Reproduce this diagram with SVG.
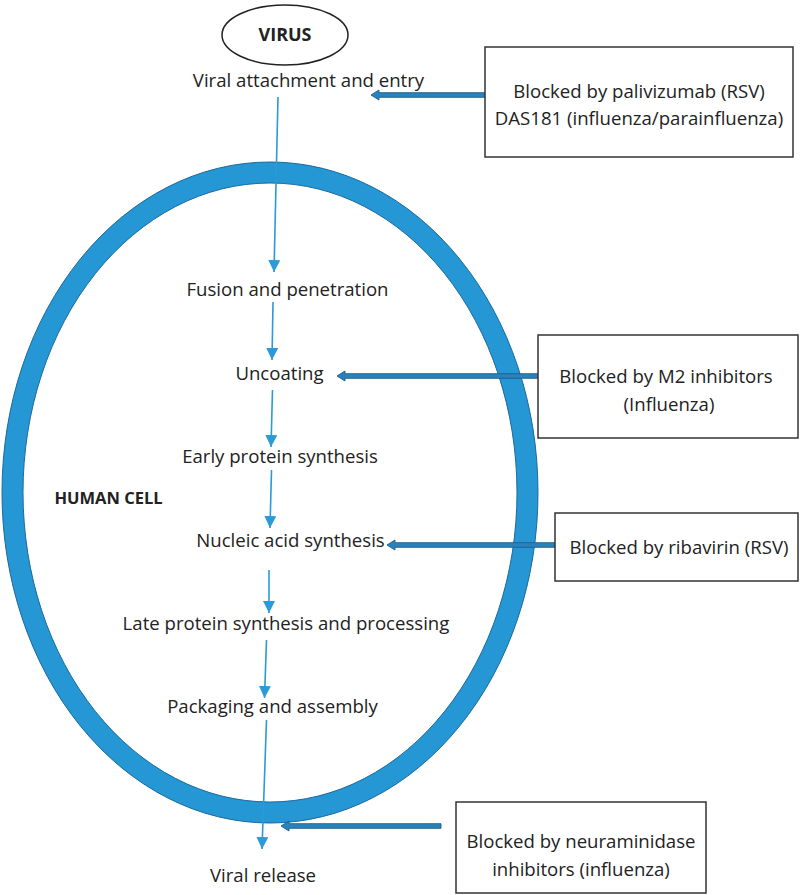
<svg xmlns="http://www.w3.org/2000/svg" width="800" height="895" viewBox="0 0 800 895">
<defs>
<style>
.t{font-family:"Open Sans","Noto Sans","Liberation Sans",sans-serif;font-size:18.6px;fill:#222;text-anchor:middle}
.b{font-weight:bold;font-size:18px}
.box{fill:#fff;stroke:#333;stroke-width:1.5}
.flow{fill:none;stroke:#2b9ad6;stroke-width:1.6}
.blk{fill:#2a82bb;stroke:#1c5f8c;stroke-width:0.9}
</style>
<marker id="ah" markerUnits="userSpaceOnUse" markerWidth="12" markerHeight="12" viewBox="0 0 12 12" refX="12" refY="6" orient="auto">
<path d="M0,0 L12,6 L0,12 z" fill="#2b9ad6"/>
</marker>
</defs>
<rect width="800" height="895" fill="#fff"/>

<g id="cell">
<ellipse cx="270" cy="492.5" rx="257.5" ry="320" fill="none" stroke="#2597d4" stroke-width="21"/>
<ellipse cx="270" cy="492.5" rx="268" ry="330.5" fill="none" stroke="#1d6a9c" stroke-width="1"/>
<ellipse cx="270" cy="492.5" rx="247" ry="309.5" fill="none" stroke="#1d6a9c" stroke-width="1"/>
<text class="t b" x="108.5" y="504" style="font-size:16.5px">HUMAN CELL</text>
</g>

<g id="virus">
<ellipse cx="285" cy="35" rx="63" ry="30" fill="#fff" stroke="#222" stroke-width="1.5"/>
<text class="t b" x="285" y="41">VIRUS</text>
</g>

<g id="connectors">
<line class="flow" x1="278" y1="97" x2="274" y2="272" marker-end="url(#ah)"/>
<line class="flow" x1="273" y1="302" x2="272" y2="360" marker-end="url(#ah)"/>
<line class="flow" x1="272.5" y1="390" x2="271" y2="447" marker-end="url(#ah)"/>
<line class="flow" x1="271.5" y1="470" x2="270" y2="528" marker-end="url(#ah)"/>
<line class="flow" x1="269" y1="570" x2="269" y2="613" marker-end="url(#ah)"/>
<line class="flow" x1="266.5" y1="640" x2="264.5" y2="698" marker-end="url(#ah)"/>
<line class="flow" x1="266.5" y1="720" x2="262" y2="849" marker-end="url(#ah)"/>
<polygon class="blk" points="485,92.7 379,92.7 379,90 371,95 379,100 379,97.3 485,97.3"/>
<polygon class="blk" points="538,373.7 345,373.7 345,371 337,376 345,381 345,378.3 538,378.3"/>
<polygon class="blk" points="555,542.7 395,542.7 395,540 387,545 395,550 395,547.3 555,547.3"/>
<polygon class="blk" points="441,823.7 289,823.7 289,821 281,826 289,831 289,828.3 441,828.3"/>
</g>

<g id="step-attach"><text class="t" x="308.5" y="87">Viral attachment and entry</text></g>
<g id="step-fusion"><text class="t" x="287.5" y="296">Fusion and penetration</text></g>
<g id="step-uncoat"><text class="t" x="279.5" y="380">Uncoating</text></g>
<g id="step-early"><text class="t" x="280" y="463">Early protein synthesis</text></g>
<g id="step-nucleic"><text class="t" x="290.5" y="547">Nucleic acid synthesis</text></g>
<g id="step-late"><text class="t" x="286" y="630">Late protein synthesis and processing</text></g>
<g id="step-pack"><text class="t" x="272.5" y="713">Packaging and assembly</text></g>
<g id="step-release"><text class="t" x="263" y="882">Viral release</text></g>

<g id="box-palivizumab">
<rect class="box" x="485" y="47" width="308" height="110"/>
<text class="t" x="639" y="98">Blocked by palivizumab (RSV)</text>
<text class="t" x="639" y="125">DAS181 (influenza/parainfluenza)</text>
</g>
<g id="box-m2">
<rect class="box" x="538" y="335" width="260" height="103"/>
<text class="t" x="666" y="383">Blocked by M2 inhibitors</text>
<text class="t" x="669" y="411">(Influenza)</text>
</g>
<g id="box-ribavirin">
<rect class="box" x="555" y="513" width="243" height="68"/>
<text class="t" x="679" y="554">Blocked by ribavirin (RSV)</text>
</g>
<g id="box-neuraminidase">
<rect class="box" x="456" y="802" width="250" height="91"/>
<text class="t" x="581" y="848">Blocked by neuraminidase</text>
<text class="t" x="581" y="876">inhibitors (influenza)</text>
</g>
</svg>
